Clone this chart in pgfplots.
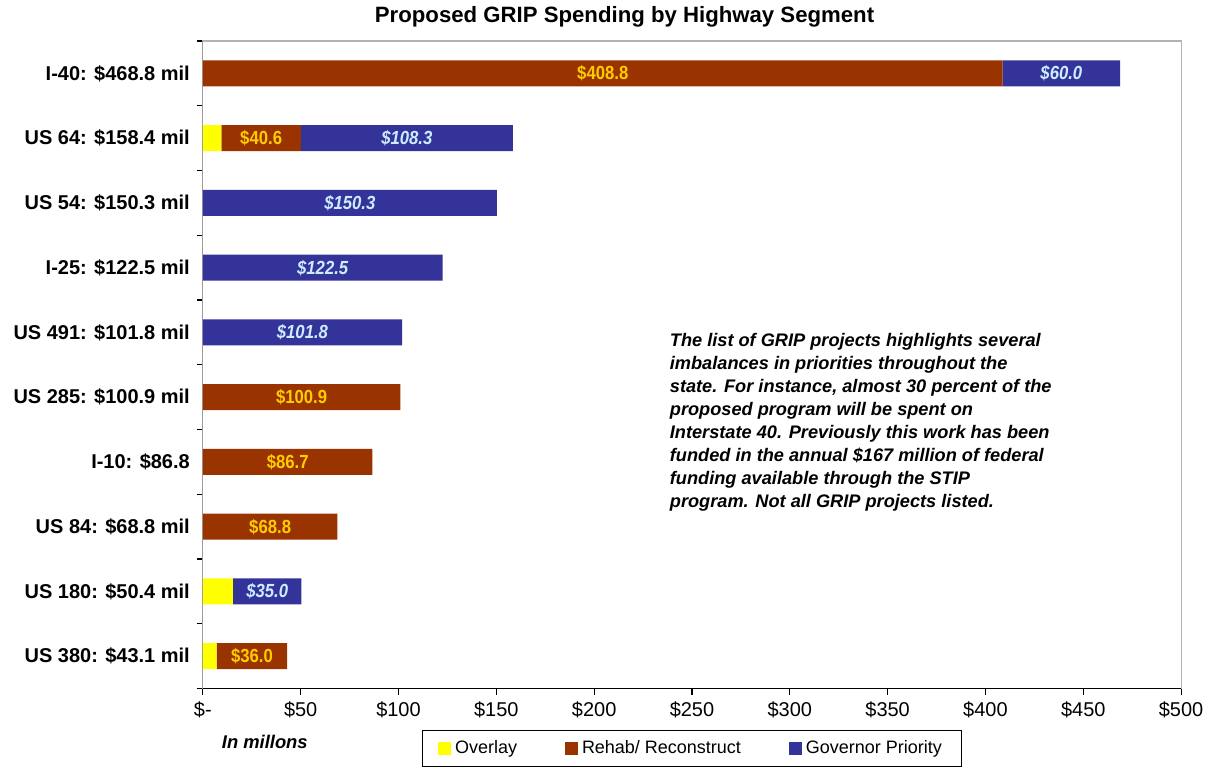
\documentclass[border=0pt]{standalone}
\usepackage{fontspec}
\setmainfont{Liberation Sans}
\newfontfamily\narrowfont[FakeStretch=0.88]{Liberation Sans}
\usepackage{pgfplots}
\pgfplotsset{compat=1.18}
\definecolor{overlay}{HTML}{FFFF00}
\definecolor{rehab}{HTML}{993300}
\definecolor{gov}{HTML}{333399}
\definecolor{goldlab}{HTML}{FFCC00}
\definecolor{bluelab}{HTML}{CCECFF}
\begin{document}
\begin{tikzpicture}
\begin{axis}[
  at={(0,0)}, anchor=south west,
  scale only axis, width=489.5pt, height=324pt,
  xbar stacked, bar width=13pt,
  y dir=reverse,
  xmin=0, xmax=500, ymin=-0.5, ymax=9.5,
  xtick={0,50,...,500},
  xticklabels={\$-,\$50,\$100,\$150,\$200,\$250,\$300,\$350,\$400,\$450,\$500},
  ytick={0,...,9},
  yticklabels={I-40: \$468.8 mil, US 64: \$158.4 mil, US 54: \$150.3 mil, I-25: \$122.5 mil, US 491: \$101.8 mil, US 285: \$100.9 mil, I-10: \$86.8, US 84: \$68.8 mil, US 180: \$50.4 mil, US 380: \$43.1 mil},
  minor ytick={-0.5,0.5,...,9.5},
  major y tick style={draw=none},
  xtick pos=bottom, ytick pos=left,
  tick align=outside,
  major tick length=3pt, minor tick length=3pt,
  tick style={black, line width=0.6pt},
  axis line style={draw=gray!60, line width=0.6pt},
  xticklabel style={font=\fontsize{10}{12}\selectfont},
  yticklabel style={font=\bfseries\fontsize{10}{12}\selectfont, xshift=0pt},
  point meta=rawx,
  legend style={at={(0.5,-0.0633)}, anchor=north, legend columns=3, draw=black, line width=0.6pt,
    font=\fontsize{9}{11}\selectfont, inner xsep=8pt, inner ysep=3pt,
    /tikz/every even column/.append style={column sep=22pt}},
  legend image code/.code={\fill[#1] (0pt,-3.25pt) rectangle (6.5pt,3.25pt);},
]
\addplot[fill=overlay, draw=none] coordinates {(0,0) (9.5,1) (0,2) (0,3) (0,4) (0,5) (0,6) (0,7) (15.4,8) (7.1,9)};
\addplot[fill=rehab, draw=none,
  nodes near coords={\pgfmathfloatifflags{\pgfplotspointmeta}{0}{}{\$\pgfmathprintnumber[fixed,fixed zerofill,precision=1,assume math mode=true]{\pgfplotspointmeta}}},
  every node near coord/.append style={anchor=center, text=goldlab, font=\narrowfont\bfseries\fontsize{9.5}{11}\selectfont}]
  coordinates {(408.8,0) (40.6,1) (0,2) (0,3) (0,4) (100.9,5) (86.7,6) (68.8,7) (0,8) (36.0,9)};
\addplot[fill=gov, draw=none,
  nodes near coords={\pgfmathfloatifflags{\pgfplotspointmeta}{0}{}{\$\pgfmathprintnumber[fixed,fixed zerofill,precision=1,assume math mode=true]{\pgfplotspointmeta}}},
  every node near coord/.append style={anchor=center, text=bluelab, font=\narrowfont\bfseries\itshape\fontsize{9.5}{11}\selectfont}]
  coordinates {(60.0,0) (108.3,1) (150.3,2) (122.5,3) (101.8,4) (0,5) (0,6) (0,7) (35.0,8) (0,9)};
\legend{Overlay, Rehab/ Reconstruct, Governor Priority}
\draw[black, line width=0.6pt] (axis description cs:0,1) -- (axis description cs:0,0) -- (axis description cs:1,0);
\end{axis}
\node[font=\bfseries\fontsize{11.1}{13}\selectfont] at (211pt,336pt) {Proposed GRIP Spending by Highway Segment};
\node[font=\bfseries\itshape\fontsize{9.2}{11}\selectfont] at (31pt,-26.5pt) {In millons};
\node[anchor=north west, inner sep=0pt, align=left, font=\bfseries\itshape\fontsize{9.1}{11.5}\selectfont] at (233.5pt,178pt) {The list of GRIP projects highlights several\\ imbalances in priorities throughout the\\ state. For instance, almost 30 percent of the\\ proposed program will be spent on\\ Interstate 40. Previously this work has been\\ funded in the annual \$167 million of federal\\ funding available through the STIP\\ program. Not all GRIP projects listed.};
\path[use as bounding box] (-101.5pt,-35pt) rectangle (503.5pt,344pt);
\end{tikzpicture}
\end{document}
